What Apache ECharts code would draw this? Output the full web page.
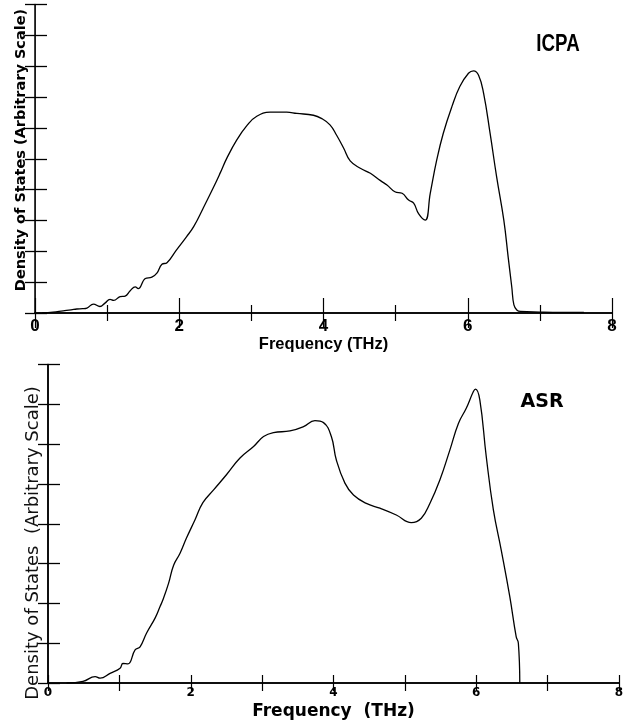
<!DOCTYPE html>
<html>
<head>
<meta charset="utf-8">
<script src="https://cdn.jsdelivr.net/npm/echarts@6/dist/echarts.min.js"></script>
<style>
  html, body { margin: 0; padding: 0; background: #fff; }
  #chart { width: 634px; height: 725px; }
</style>
</head>
<body>
<div id="chart"></div>
<script>
// Phonon density of states, two calculations (ICPA and ASR)
const icpaFreq = [0.10, 0.25, 0.39, 0.50, 0.58, 0.66, 0.72, 0.81, 0.90, 0.97, 1.04, 1.09, 1.18, 1.25, 1.32, 1.39, 1.43, 1.53, 1.62, 1.69, 1.76, 1.83, 1.96, 2.10, 2.20, 2.33, 2.47, 2.57, 2.66, 2.80, 2.94, 3.07, 3.26, 3.49, 3.63, 3.86, 3.97, 4.09, 4.18, 4.28, 4.37, 4.51, 4.65, 4.79, 4.88, 4.99, 5.09, 5.18, 5.25, 5.32, 5.41, 5.48, 5.57, 5.66, 5.78, 5.89, 6.01, 6.08, 6.15, 6.22, 6.31, 6.40, 6.50, 6.56, 6.61, 6.64, 6.68, 6.73, 7.00, 7.30, 7.61];
const icpaDos = [0.00, 0.03, 0.07, 0.10, 0.13, 0.14, 0.16, 0.29, 0.21, 0.32, 0.44, 0.41, 0.53, 0.55, 0.72, 0.85, 0.79, 1.12, 1.16, 1.29, 1.58, 1.63, 2.04, 2.47, 2.80, 3.39, 4.05, 4.55, 5.02, 5.62, 6.08, 6.37, 6.51, 6.51, 6.47, 6.41, 6.31, 6.10, 5.77, 5.34, 4.93, 4.69, 4.53, 4.29, 4.15, 3.93, 3.88, 3.66, 3.56, 3.21, 3.01, 3.88, 4.96, 5.82, 6.69, 7.34, 7.77, 7.85, 7.71, 7.12, 5.82, 4.42, 3.01, 1.82, 0.85, 0.26, 0.10, 0.05, 0.03, 0.02, 0.02];

const asrFreq = [0.26, 0.49, 0.66, 0.73, 0.87, 1.01, 1.05, 1.12, 1.22, 1.29, 1.38, 1.50, 1.57, 1.61, 1.69, 1.76, 1.85, 1.94, 2.06, 2.17, 2.32, 2.50, 2.69, 2.88, 3.02, 3.16, 3.39, 3.58, 3.74, 3.86, 3.97, 4.04, 4.16, 4.28, 4.46, 4.65, 4.88, 5.09, 5.23, 5.35, 5.49, 5.63, 5.75, 5.86, 5.96, 5.99, 6.05, 6.14, 6.24, 6.35, 6.47, 6.56, 6.59, 6.61];
const asrDos = [0.00, 0.04, 0.16, 0.12, 0.24, 0.37, 0.49, 0.48, 0.83, 0.91, 1.25, 1.63, 1.92, 2.09, 2.51, 2.96, 3.26, 3.64, 4.10, 4.53, 4.85, 5.23, 5.65, 5.94, 6.19, 6.29, 6.33, 6.44, 6.59, 6.54, 6.19, 5.60, 5.02, 4.72, 4.51, 4.39, 4.22, 4.03, 4.14, 4.51, 5.10, 5.85, 6.52, 6.90, 7.32, 7.38, 7.11, 5.69, 4.35, 3.34, 2.17, 1.16, 1.00, 0.00];

const freqTicks = [0, 2, 4, 6, 8];
const xLabel = 'Frequency (THz)';
const xLabelWide = 'Frequency  (THz)';
const yLabel = 'Density of States (Arbitrary Scale)';
const yLabelWide = 'Density of States  (Arbitrary Scale)';
const topTag = 'ICPA';
const bottomTag = 'ASR';

const pairs = (xs, ys) => xs.map((x, i) => [x, ys[i]]);

const SANS = "'Liberation Sans', Arial, sans-serif";
const WIDE = "'DejaVu Sans', Verdana, sans-serif";
const line = { color: '#000', width: 1.5 };

function xAxes(gridIndex, opts) {
  const common = {
    type: 'value', gridIndex, min: freqTicks[0], max: freqTicks[freqTicks.length - 1], interval: 2,
    splitLine: { show: false },
    axisLine: { show: true, lineStyle: line },
    axisTick: { show: true, inside: true, length: opts.major, lineStyle: { color: '#000', width: 1.2 } },
    minorTick: { show: true, splitNumber: 2, length: opts.minor, lineStyle: { color: '#000', width: 1.2 } }
  };
  return [
    Object.assign({}, common, {
      position: 'bottom',
      axisLabel: { show: true, margin: opts.labelMargin, color: '#000', fontWeight: 'bold', fontFamily: opts.labelFont, fontSize: opts.labelSize },
      name: opts.name, nameLocation: 'middle', nameGap: opts.nameGap,
      nameTextStyle: { color: '#000', fontWeight: 'bold', fontFamily: opts.nameFont, fontSize: opts.nameSize }
    }),
    Object.assign({}, common, { position: 'top', axisLabel: { show: false } })
  ];
}

function yAxes(gridIndex, max, leftLine) {
  const common = { type: 'value', gridIndex, min: 0, max, interval: 1, splitLine: { show: false }, axisLabel: { show: false } };
  return [
    Object.assign({}, common, {
      position: 'left',
      axisLine: { show: true, lineStyle: leftLine },
      axisTick: { show: true, inside: true, length: 12, lineStyle: { color: '#000', width: 1.3 } }
    }),
    Object.assign({}, common, {
      position: 'right',
      axisLine: { show: true, lineStyle: line },
      axisTick: { show: true, inside: true, length: 10, lineStyle: { color: '#000', width: 1.3 } }
    })
  ];
}

const chart = echarts.init(document.getElementById('chart'), null, { renderer: 'canvas' });

chart.setOption({
  backgroundColor: '#fff',
  animation: false,
  grid: [
    { left: 35, right: 22, top: 4.5, height: 308.5 },
    { left: 48, right: 15, top: 364.5, height: 318.5 }
  ],
  xAxis: [].concat(
    xAxes(0, { major: 15, minor: 8, labelMargin: 5, labelFont: SANS, labelSize: 17, name: xLabel, nameGap: 20, nameFont: SANS, nameSize: 16.5 }),
    xAxes(1, { major: 8, minor: 8, labelMargin: 4, labelFont: WIDE, labelSize: 12, name: xLabelWide, nameGap: 20, nameFont: WIDE, nameSize: 17 })
  ),
  yAxis: [].concat(
    yAxes(0, 10, { color: '#444', width: 0.8 }),
    yAxes(1, 8, line)
  ),
  graphic: [
    { type: 'text', x: 21, y: 150, rotation: Math.PI / 2,
      style: { text: yLabel, font: "bold 14.5px 'DejaVu Sans', sans-serif", fill: '#000', align: 'center', verticalAlign: 'middle' } },
    { type: 'text', x: 33, y: 543, rotation: Math.PI / 2,
      style: { text: yLabelWide, font: "18px 'DejaVu Sans', sans-serif", fill: '#111', align: 'center', verticalAlign: 'middle' } },
    { type: 'text', x: 558, y: 44, scaleX: 0.78,
      style: { text: topTag, font: "bold 24px 'Liberation Sans', Arial, sans-serif", fill: '#000', align: 'center', verticalAlign: 'middle' } },
    { type: 'text', x: 542, y: 402,
      style: { text: bottomTag, font: "bold 19px 'DejaVu Sans', sans-serif", fill: '#000', align: 'center', verticalAlign: 'middle' } }
  ],
  series: [
    { type: 'line', xAxisIndex: 0, yAxisIndex: 0, data: pairs(icpaFreq, icpaDos), showSymbol: false,
      smooth: 0.45, lineStyle: { color: '#000', width: 1.3 } },
    { type: 'line', xAxisIndex: 2, yAxisIndex: 2, data: pairs(asrFreq, asrDos), showSymbol: false,
      smooth: 0.45, lineStyle: { color: '#000', width: 1.3 } }
  ]
});
</script>
</body>
</html>
